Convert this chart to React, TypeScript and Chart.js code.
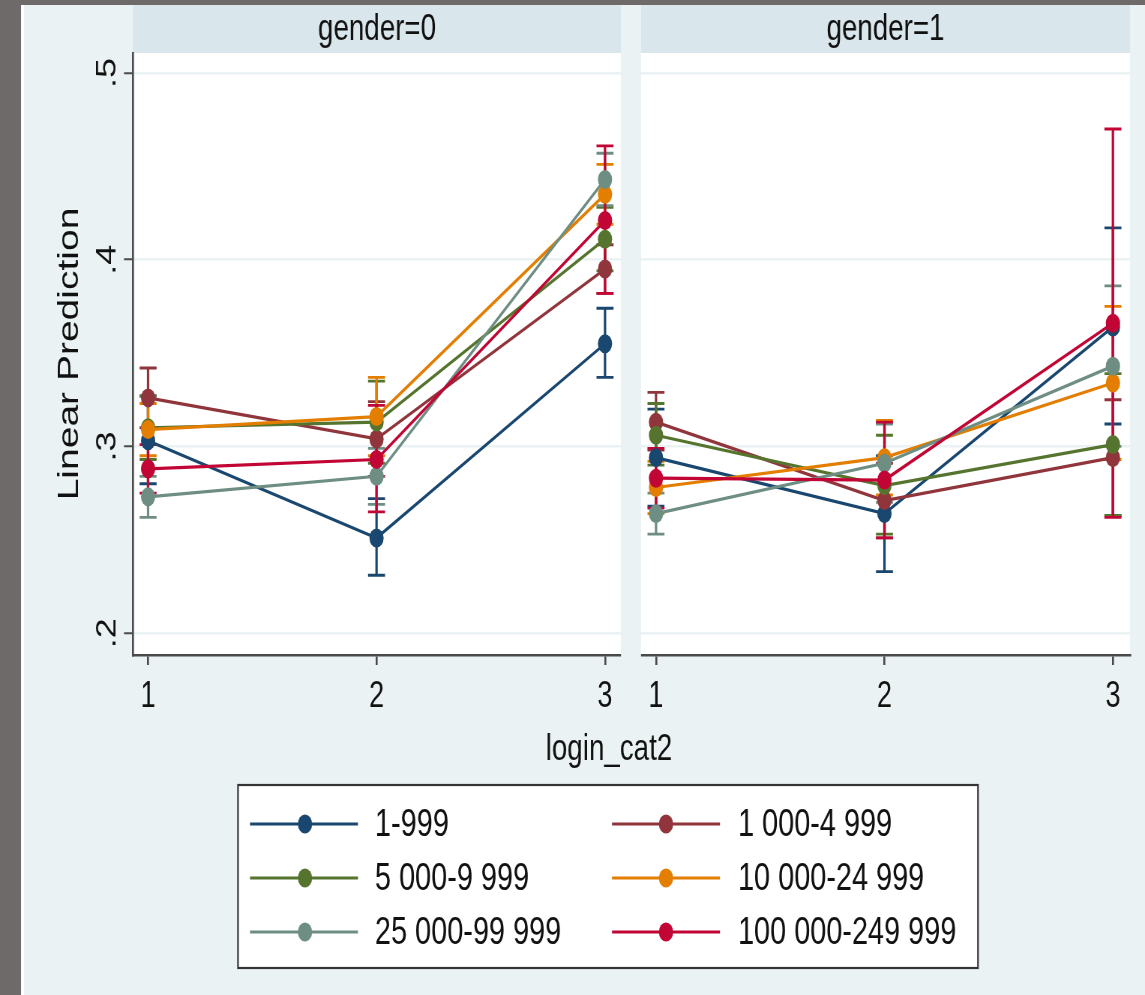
import React, { useEffect, useRef } from 'react';
import { Chart, registerables } from 'chart.js';

Chart.register(...registerables);

// ---------------- data ----------------
const categories = [1, 2, 3];
const xTickLabels = ['1', '2', '3'];
const yTickValues = [0.2, 0.3, 0.4, 0.5];
const yTickLabels = ['.2', '.3', '.4', '.5'];
const panelTitles = ['gender=0', 'gender=1'];
const xAxisTitle = 'login_cat2';
const yAxisTitle = 'Linear Prediction';
const seriesLabels = ['1-999', '1 000-4 999', '5 000-9 999', '10 000-24 999', '25 000-99 999', '100 000-249 999'];
const seriesColors = ['#1a476f', '#90353b', '#55752f', '#e37e00', '#6e8e84', '#c10534'];

// gender=0 : prediction per series at login_cat2 = 1, 2, 3
const gender0Mean = [
  [0.303, 0.251, 0.355],
  [0.326, 0.304, 0.395],
  [0.310, 0.313, 0.411],
  [0.309, 0.316, 0.435],
  [0.273, 0.284, 0.443],
  [0.288, 0.293, 0.421],
];
const gender0Lo = [
  [0.280, 0.231, 0.337],
  [0.310, 0.284, 0.382],
  [0.293, 0.291, 0.394],
  [0.295, 0.295, 0.419],
  [0.262, 0.269, 0.429],
  [0.275, 0.265, 0.382],
];
const gender0Hi = [
  [0.327, 0.272, 0.374],
  [0.342, 0.324, 0.408],
  [0.327, 0.335, 0.428],
  [0.323, 0.337, 0.451],
  [0.284, 0.299, 0.457],
  [0.301, 0.322, 0.461],
];
// gender=1
const gender1Mean = [
  [0.294, 0.264, 0.364],
  [0.313, 0.271, 0.294],
  [0.306, 0.279, 0.301],
  [0.278, 0.294, 0.334],
  [0.264, 0.291, 0.343],
  [0.283, 0.282, 0.366],
];
const gender1Lo = [
  [0.268, 0.233, 0.312],
  [0.298, 0.251, 0.263],
  [0.290, 0.253, 0.263],
  [0.264, 0.274, 0.293],
  [0.253, 0.270, 0.300],
  [0.267, 0.251, 0.262],
];
const gender1Hi = [
  [0.320, 0.295, 0.417],
  [0.329, 0.291, 0.325],
  [0.323, 0.306, 0.339],
  [0.292, 0.314, 0.375],
  [0.275, 0.312, 0.386],
  [0.299, 0.313, 0.470],
];

// ---------------- layout / style ----------------
const W = 1145;
const H = 995;
const SX = 1.3336; // drawing is horizontally squeezed, like the reference
const CW = Math.round(W * SX);
const FONT = "'Liberation Sans', Arial, Helvetica, sans-serif";
const TEXT = '#111111';
const AXIS = '#4a4a4a';
const OUTER_BG = '#eaf2f3';
const STRIP_BG = '#d9e6eb';
const GRID = '#eaf2f3';
const MARKER_R = 9.5;

const X_MIN = 0.934;
const X_MAX = 5.298;
const PANEL_OFFSET = 2.2232;
const PANEL_BOUNDS = [
  [X_MIN, 3.07],
  [3.1575, X_MAX],
];
const Y_MIN = 0.1883;
const Y_MAX = 0.5107;

const xTickValues = [0, 1].flatMap((p) => categories.map((c) => c + p * PANEL_OFFSET));

const panels = [
  [gender0Mean, gender0Lo, gender0Hi],
  [gender1Mean, gender1Lo, gender1Hi],
];

function buildDatasets() {
  const out: any[] = [];
  panels.forEach(([mean, lo, hi], p) => {
    seriesLabels.forEach((label, s) => {
      out.push({
        label,
        panel: p,
        series: s,
        data: categories.map((c, j) => ({ x: c + p * PANEL_OFFSET, y: mean[s][j] })),
        ciLo: lo[s],
        ciHi: hi[s],
        borderColor: seriesColors[s],
        backgroundColor: seriesColors[s],
        pointBackgroundColor: seriesColors[s],
        pointBorderColor: seriesColors[s],
        pointBorderWidth: 0,
        pointRadius: MARKER_R,
        pointHoverRadius: MARKER_R,
        borderWidth: 3.2,
        tension: 0,
        fill: false,
        order: seriesLabels.length - s,
      });
    });
  });
  return out;
}

const backgroundPlugin = {
  id: 'stataBackground',
  beforeDraw(chart: any) {
    const { ctx, chartArea } = chart;
    const xs = chart.scales.x;
    ctx.save();
    ctx.fillStyle = OUTER_BG;
    ctx.fillRect(0, 0, chart.width, chart.height);
    ctx.fillStyle = '#6e6a6a';
    ctx.fillRect(0, 0, 21 * SX, chart.height);
    ctx.fillRect(0, 0, chart.width, 5);
    ctx.fillStyle = '#ffffff';
    ctx.fillRect(21 * SX, 5, 3 * SX, chart.height);
    PANEL_BOUNDS.forEach((b, i) => {
      const l = xs.getPixelForValue(b[0]);
      const r = xs.getPixelForValue(b[1]);
      ctx.fillStyle = STRIP_BG;
      ctx.fillRect(l, 5, r - l, chartArea.top - 5);
      ctx.fillStyle = '#ffffff';
      ctx.fillRect(l, chartArea.top, r - l, chartArea.bottom - chartArea.top);
      ctx.fillStyle = TEXT;
      ctx.font = `37px ${FONT}`;
      ctx.textAlign = 'center';
      ctx.textBaseline = 'middle';
      ctx.fillText(panelTitles[i], (l + r) / 2, (5 + chartArea.top) / 2 + 1);
    });
    ctx.restore();
  },
};

const errorBarPlugin = {
  id: 'stataErrorBars',
  beforeDatasetsDraw(chart: any) {
    const { ctx, chartArea } = chart;
    const xs = chart.scales.x;
    const ys = chart.scales.y;
    ctx.save();
    // gap between the two panels
    const gl = xs.getPixelForValue(PANEL_BOUNDS[0][1]);
    const gr = xs.getPixelForValue(PANEL_BOUNDS[1][0]);
    ctx.fillStyle = OUTER_BG;
    ctx.fillRect(gl, 5, gr - gl, chartArea.bottom + 3 - 5);

    const items = chart.data.datasets
      .map((ds: any, i: number) => ({ ds, i }))
      .sort((a: any, b: any) => a.ds.series - b.ds.series || a.ds.panel - b.ds.panel);
    items.forEach(({ ds, i }: any) => {
      const meta = chart.getDatasetMeta(i);
      ctx.strokeStyle = ds.borderColor;
      meta.data.forEach((pt: any, j: number) => {
        const x = pt.x;
        const y1 = ys.getPixelForValue(ds.ciLo[j]);
        const y2 = ys.getPixelForValue(ds.ciHi[j]);
        ctx.lineWidth = 3.2;
        ctx.beginPath();
        ctx.moveTo(x, y1);
        ctx.lineTo(x, y2);
        ctx.stroke();
        ctx.lineWidth = 2.8;
        ctx.beginPath();
        ctx.moveTo(x - 8.5 * SX, y1);
        ctx.lineTo(x + 8.5 * SX, y1);
        ctx.moveTo(x - 8.5 * SX, y2);
        ctx.lineTo(x + 8.5 * SX, y2);
        ctx.stroke();
      });
    });
    ctx.restore();
  },
};

const legendPlugin = {
  id: 'stataLegend',
  afterDraw(chart: any) {
    const { ctx } = chart;
    ctx.save();
    // x axis title
    ctx.fillStyle = TEXT;
    ctx.font = `37px ${FONT}`;
    ctx.textAlign = 'center';
    ctx.textBaseline = 'middle';
    ctx.fillText(xAxisTitle, 609 * SX, 750);

    // legend box
    const L = 238 * SX;
    const R = 978 * SX;
    const T = 785;
    const B = 968;
    ctx.fillStyle = '#ffffff';
    ctx.fillRect(L, T, R - L, B - T);
    ctx.strokeStyle = '#333333';
    ctx.lineWidth = 2.2;
    ctx.strokeRect(L, T, R - L, B - T);

    const entries = chart.data.datasets.filter((d: any) => d.panel === 0);
    const colLine = [
      [250, 358, 305, 375],
      [612, 720, 666, 738],
    ];
    entries.forEach((ds: any, k: number) => {
      const col = k % 2;
      const row = Math.floor(k / 2);
      const y = 824 + row * 54;
      const [a, b, m, t] = colLine[col];
      ctx.strokeStyle = ds.borderColor;
      ctx.lineWidth = 3.2;
      ctx.beginPath();
      ctx.moveTo(a * SX, y);
      ctx.lineTo(b * SX, y);
      ctx.stroke();
      ctx.fillStyle = ds.borderColor;
      ctx.beginPath();
      ctx.arc(m * SX, y, MARKER_R, 0, Math.PI * 2);
      ctx.fill();
      ctx.fillStyle = TEXT;
      ctx.font = `38.5px ${FONT}`;
      ctx.textAlign = 'left';
      ctx.textBaseline = 'middle';
      ctx.fillText(ds.label, t * SX, y + 1);
    });
    ctx.restore();
  },
};

export default function App() {
  const ref = useRef<HTMLCanvasElement | null>(null);

  useEffect(() => {
    if (!ref.current) return;
    const chart = new Chart(ref.current, {
      type: 'line',
      data: { datasets: buildDatasets() },
      plugins: [backgroundPlugin, errorBarPlugin, legendPlugin],
      options: {
        responsive: false,
        maintainAspectRatio: false,
        devicePixelRatio: 1,
        animation: false,
        events: [],
        layout: { padding: { left: 0, top: 53, right: 15 * SX, bottom: 220 } },
        plugins: {
          legend: { display: false },
          tooltip: { enabled: false },
          title: { display: false },
        },
        scales: {
          x: {
            type: 'linear',
            min: X_MIN,
            max: X_MAX,
            afterBuildTicks: (s: any) => {
              s.ticks = xTickValues.map((v) => ({ value: v }));
            },
            afterFit: (s: any) => {
              s.height = 120;
            },
            ticks: {
              autoSkip: false,
              minRotation: 0,
              maxRotation: 0,
              padding: 10,
              color: TEXT,
              font: { family: FONT, size: 36 },
              callback: (_v: any, i: number) => xTickLabels[i % xTickLabels.length],
            },
            grid: {
              drawOnChartArea: false,
              drawTicks: true,
              tickLength: 10,
              tickColor: AXIS,
              color: AXIS,
              lineWidth: 2.6,
              tickWidth: 2.6,
            },
            border: { display: true, color: AXIS, width: 2.5 },
          },
          y: {
            type: 'linear',
            min: Y_MIN,
            max: Y_MAX,
            afterBuildTicks: (s: any) => {
              s.ticks = yTickValues.map((v) => ({ value: v }));
            },
            afterFit: (s: any) => {
              s.width = 133 * SX;
            },
            ticks: {
              autoSkip: false,
              minRotation: 90,
              maxRotation: 90,
              crossAlign: 'center',
              padding: 6.5,
              color: TEXT,
              font: { family: FONT, size: 36 },
              callback: (_v: any, i: number) => yTickLabels[i],
            },
            grid: {
              color: GRID,
              lineWidth: 2.5,
              drawTicks: true,
              tickLength: 12,
              tickColor: AXIS,
              tickWidth: 2,
            },
            border: { display: true, color: AXIS, width: 2.6 },
            title: {
              display: true,
              text: yAxisTitle,
              color: TEXT,
              font: { family: FONT, size: 39 },
              padding: { top: 70, bottom: 0 },
            },
          },
        },
      } as any,
    });
    return () => chart.destroy();
  }, []);

  return (
    <div style={{ position: 'absolute', left: 0, top: 0, width: W, height: H, overflow: 'hidden' }}>
      <canvas ref={ref} width={CW} height={H} style={{ width: `${W}px`, height: `${H}px`, display: 'block' }} />
    </div>
  );
}
